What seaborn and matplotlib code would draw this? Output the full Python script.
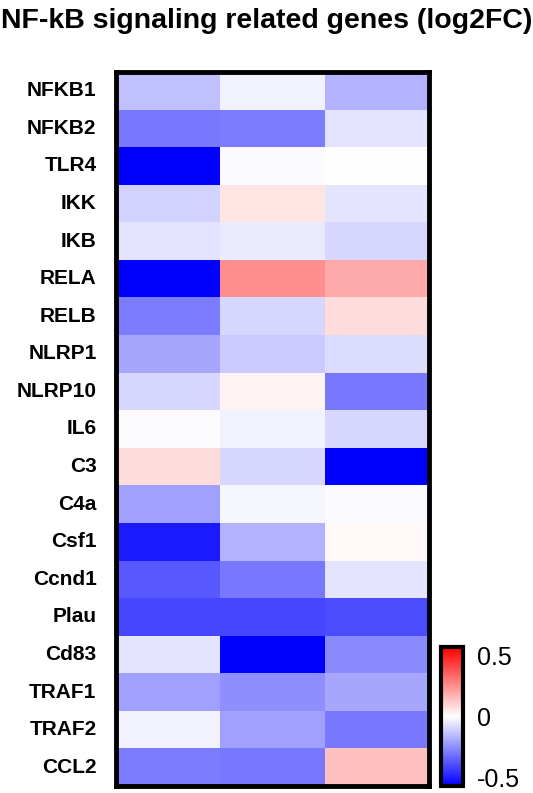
import numpy as np
import pandas as pd
import matplotlib
matplotlib.use("Agg")
import matplotlib.pyplot as plt
import seaborn as sns

# ----------------------
# data (log2FC)
# ----------------------
genes = ["NFKB1", "NFKB2", "TLR4", "IKK", "IKB", "RELA", "RELB", "NLRP1",
         "NLRP10", "IL6", "C3", "C4a", "Csf1", "Ccnd1", "Plau", "Cd83",
         "TRAF1", "TRAF2", "CCL2"]
group1 = [-0.14, -0.30, -0.62, -0.10, -0.06, -0.65, -0.29, -0.20, -0.09, -0.005,
          0.08, -0.21, -0.51, -0.37, -0.41, -0.06, -0.21, -0.03, -0.29]
group2 = [-0.03, -0.29, -0.01, 0.06, -0.045, 0.25, -0.09, -0.12, 0.03, -0.03,
          -0.09, -0.02, -0.17, -0.30, -0.41, -0.62, -0.25, -0.21, -0.30]
group3 = [-0.17, -0.06, 0.00, -0.06, -0.09, 0.19, 0.08, -0.08, -0.30, -0.09,
          -0.62, -0.01, 0.015, -0.06, -0.40, -0.26, -0.20, -0.30, 0.14]
cbar_ticks = [-0.5, 0, 0.5]

df = pd.DataFrame({"g1": group1, "g2": group2, "g3": group3}, index=genes)

sns.set_style("white")
plt.rcParams["font.family"] = ["Liberation Sans", "DejaVu Sans"]
plt.rcParams["text.color"] = "black"
plt.rcParams["ytick.color"] = "black"
plt.rcParams["ytick.labelcolor"] = "black"

W, H = 533, 793
fig = plt.figure(figsize=(W / 100, H / 100), dpi=100)
ax = fig.add_axes([116 / W, 1 - 786 / H, (429 - 116) / W, (786 - 72) / H])
cax = fig.add_axes([441 / W, 1 - 786 / H, (463 - 441) / W, (786 - 647) / H])

sns.heatmap(df, ax=ax, cmap="bwr", vmin=-0.57, vmax=0.57, cbar_ax=cax,
            xticklabels=False, yticklabels=True,
            cbar_kws={"ticks": cbar_ticks})

ax.set_ylabel("")
ax.tick_params(axis="y", length=0, pad=14, colors="black")
for lab in ax.get_yticklabels():
    lab.set_fontsize(15)
    lab.set_fontweight("bold")
    lab.set_rotation(0)
for sp in ax.spines.values():
    sp.set_visible(True)
    sp.set_linewidth(3.5)
    sp.set_color("black")

# colorbar styling
cbar = ax.collections[0].colorbar
cbar.outline.set_linewidth(3)
cbar.outline.set_edgecolor("black")
cax.tick_params(axis="y", direction="in", length=6, width=2, left=True,
                right=True, labelsize=18, pad=10, colors="black")
cbar.set_ticklabels(["-0.5", "0", "0.5"])

fig.text(0.5, 1 - 21 / H, "NF-kB signaling related genes (log2FC)",
         ha="center", va="center", fontsize=20.5, fontweight="bold")

fig.savefig("out.png", dpi=100)
